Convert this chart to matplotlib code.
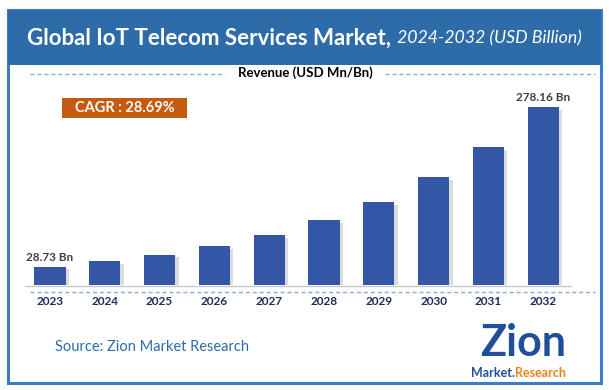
import matplotlib
matplotlib.use("Agg")
import matplotlib.pyplot as plt
import matplotlib.patheffects as pe
from matplotlib.patches import Rectangle
from matplotlib.lines import Line2D

years = ["2023", "2024", "2025", "2026", "2027", "2028", "2029", "2030", "2031", "2032"]
revenue = [28.73, 37.0, 47.5, 61.0, 78.5, 101.0, 130.0, 168.0, 216.0, 278.16]
label_first = "28.73 Bn"
label_last = "278.16 Bn"
cagr_text = "CAGR : 28.69%"
title_main = "Global IoT Telecom Services Market,"
title_sub = "2024-2032 (USD Billion)"
revenue_label = "Revenue (USD Mn/Bn)"
source_text = "Source: Zion Market Research"

W, H = 609, 390
fig = plt.figure(figsize=(W / 100, H / 100), dpi=100)
plt.rcParams['font.family'] = ['Lato', 'DejaVu Sans']


def fx(x):
    return x / W


def fy(y):
    return 1 - y / H


# outer border
fig.patches.append(Rectangle((fx(8), fy(383)), fx(593), (383 - 10) / H, transform=fig.transFigure,
                             fill=False, edgecolor="#3B7DC4", linewidth=2.2, zorder=0))
# title bar
fig.patches.append(Rectangle((fx(8), fy(65)), fx(593), 55 / H, transform=fig.transFigure,
                             facecolor="#2D6CA8", edgecolor="none", zorder=1))
t1 = fig.text(fx(27), fy(38), title_main, color="white", fontsize=16, fontweight="bold",
              ha="left", va="center")
renderer = fig.canvas.get_renderer()
bb = t1.get_window_extent(renderer=renderer)
fig.text(bb.x1 / W + fx(6), fy(38), title_sub, color="white", fontsize=12.8, fontstyle="italic",
         ha="left", va="center")

# revenue label and dashed lines
fig.text(fx(305), fy(73), revenue_label, color="black", fontsize=9.5, fontweight="bold",
         ha="center", va="center")
fig.lines.append(Line2D([fx(30), fx(225)], [fy(74), fy(74)], transform=fig.transFigure,
                        color="#8DA9D8", linestyle=(0, (3, 2)), linewidth=1))
fig.lines.append(Line2D([fx(385), fx(595)], [fy(74), fy(74)], transform=fig.transFigure,
                        color="#8DA9D8", linestyle=(0, (3, 2)), linewidth=1))

# CAGR box
fig.patches.append(Rectangle((fx(62), fy(118)), fx(125), 20 / H, transform=fig.transFigure,
                             facecolor="#C55A11", edgecolor="none"))
fig.text(fx(124.5), fy(108), cagr_text, color="white", fontsize=10.5, fontweight="bold",
         ha="center", va="center")

# bar axes
ax_left = 22.6
ax_w = 548
ax_bottom = 285
ymax = 300
ax_h = 192
ax = fig.add_axes([fx(ax_left), fy(ax_bottom), fx(ax_w), ax_h / H])
x = list(range(len(years)))
bars = ax.bar(x, revenue, width=0.57, color="#3356A6", zorder=3)
for b in bars:
    b.set_path_effects([pe.SimplePatchShadow(offset=(2.5, -2), shadow_rgbFace="#9A9A9A", alpha=0.35),
                        pe.Normal()])
ax.set_xlim(-0.5, len(years) - 0.5)
ax.set_ylim(0, ymax)
ax.axis("off")
ax.text(0, revenue[0] + 6, label_first, ha="center", va="bottom", fontsize=8.5,
        fontweight="bold", color="#404040")
ax.text(len(years) - 1, revenue[-1] + 6, label_last, ha="center", va="bottom", fontsize=8.5,
        fontweight="bold", color="#404040")
for i, yr in enumerate(years):
    ax.text(i, -26, yr, ha="center", va="center", fontsize=8.5, fontweight="bold",
            color="#1F2A5C", clip_on=False)

# baseline and dashed line
fig.lines.append(Line2D([fx(25), fx(571)], [fy(286), fy(286)], transform=fig.transFigure,
                        color="#C8C8C8", linewidth=1))
fig.lines.append(Line2D([fx(30), fx(595)], [fy(292), fy(292)], transform=fig.transFigure,
                        color="#8DA9D8", linestyle=(0, (3, 2)), linewidth=1))

# source
fig.text(fx(55), fy(347), source_text, color="#2D6CA8", fontsize=10.5, ha="left", va="center")

# logo
fig.text(fx(523), fy(343), "Zion", color="#1F4E9A", fontsize=31, fontweight="bold",
         ha="center", va="center")
fig.text(fx(515), fy(373), "Market.", color="#1F4E9A", fontsize=9, fontweight="bold",
         ha="right", va="center")
fig.text(fx(515), fy(373), "Research", color="#E8821E", fontsize=9, fontweight="bold",
         ha="left", va="center")

fig.savefig("out.png", dpi=100)
